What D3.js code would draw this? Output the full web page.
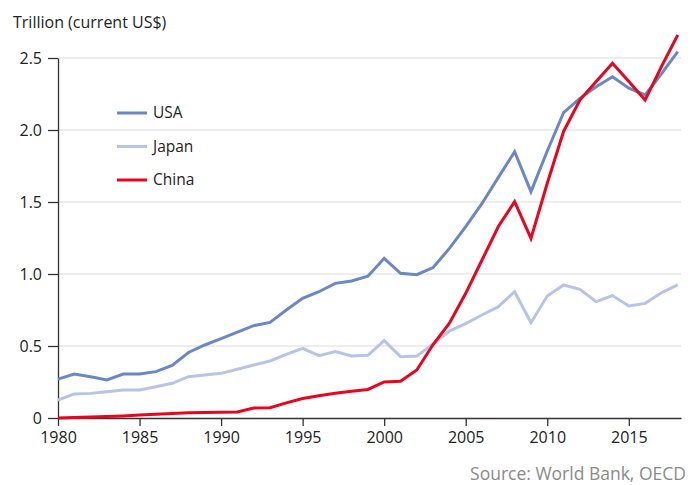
<!DOCTYPE html>
<html>
<head>
<meta charset="utf-8">
<script src="https://cdn.jsdelivr.net/npm/d3@7"></script>
<style>
  html, body { margin: 0; padding: 0; background: #fff; }
  svg { display: block; font-family: "Open Sans", "Noto Sans", sans-serif; }
</style>
</head>
<body>
<svg id="chart" width="696" height="485"></svg>
<script>
// Exports of goods and services, trillion current US$
const years = d3.range(1980, 2019);

const usa = [0.27, 0.305, 0.287, 0.264, 0.305, 0.305, 0.322, 0.365, 0.455, 0.507,
             0.551, 0.597, 0.641, 0.664, 0.75, 0.831, 0.877, 0.935, 0.952, 0.985,
             1.109, 1.005, 0.995, 1.045, 1.178, 1.329, 1.49, 1.671, 1.849, 1.572,
             1.854, 2.12, 2.22, 2.30, 2.37, 2.29, 2.243, 2.39, 2.544];

const japan = [0.125, 0.167, 0.171, 0.183, 0.194, 0.194, 0.217, 0.241, 0.287, 0.299,
               0.31, 0.338, 0.368, 0.396, 0.442, 0.484, 0.433, 0.461, 0.431, 0.435,
               0.537, 0.426, 0.43, 0.515, 0.604, 0.655, 0.715, 0.773, 0.877, 0.662,
               0.847, 0.924, 0.894, 0.808, 0.85, 0.778, 0.796, 0.87, 0.924];

const china = [0.0, 0.004, 0.007, 0.01, 0.014, 0.02, 0.026, 0.032, 0.037, 0.038,
               0.04, 0.042, 0.07, 0.072, 0.105, 0.135, 0.155, 0.172, 0.185, 0.198,
               0.25, 0.255, 0.333, 0.51, 0.658, 0.866, 1.097, 1.33, 1.502, 1.247,
               1.63, 1.99, 2.208, 2.336, 2.463, 2.336, 2.208, 2.44, 2.66];

const yTicks = [0, 0.5, 1.0, 1.5, 2.0, 2.5];
const yTickLabels = ["0", "0.5", "1.0", "1.5", "2.0", "2.5"];
const xTicks = [1980, 1985, 1990, 1995, 2000, 2005, 2010, 2015];

const seriesNames = ["USA", "Japan", "China"];
const seriesValues = [usa, japan, china];
const seriesColors = ["#6b87c6", "#b9c3e6", "#e8051f"];

const svg = d3.select("#chart");
const plotLeft = 58, plotRight = 681, plotTop = 58, plotBottom = 418;

const x = d3.scaleLinear().domain([1980, 2018.2]).range([plotLeft, plotRight]);
const y = d3.scaleLinear().domain([0, 2.5]).range([plotBottom, plotTop]);

// horizontal gridlines
svg.append("g")
  .selectAll("line")
  .data(yTicks.filter(d => d > 0))
  .join("line")
  .attr("x1", plotLeft).attr("x2", plotRight)
  .attr("y1", d => y(d)).attr("y2", d => y(d))
  .attr("stroke", "#dcdcdc")
  .attr("stroke-width", 1.2);

// y axis
const yAxis = svg.append("g")
  .attr("transform", `translate(${plotLeft},0)`)
  .call(d3.axisLeft(y).tickValues(yTicks)
    .tickFormat((d, i) => yTickLabels[i]).tickSize(10).tickSizeOuter(0).tickPadding(6));
yAxis.select(".domain").attr("stroke", "#333").attr("stroke-width", 1.3);
yAxis.selectAll(".tick line").attr("stroke", "#333").attr("stroke-width", 1.3);
yAxis.selectAll("text").attr("font-size", 16).attr("fill", "#222")
  .attr("font-family", "'Open Sans', sans-serif");

// x axis
const xAxis = svg.append("g")
  .attr("transform", `translate(0,${plotBottom})`)
  .call(d3.axisBottom(x).tickValues(xTicks).tickFormat(d3.format("d"))
    .tickSize(8).tickSizeOuter(0).tickPadding(6));
xAxis.select(".domain").attr("stroke", "#333").attr("stroke-width", 1.3);
xAxis.selectAll(".tick line").attr("stroke", "#333").attr("stroke-width", 1.3);
xAxis.selectAll("text").attr("font-size", 16).attr("fill", "#222")
  .attr("font-family", "'Open Sans', sans-serif");

// series lines
const line = d3.line().x((d, i) => x(years[i])).y(d => y(d));
const order = [1, 0, 2];
svg.append("g")
  .selectAll("path")
  .data(order)
  .join("path")
  .attr("d", k => line(seriesValues[k]))
  .attr("fill", "none")
  .attr("stroke", k => seriesColors[k])
  .attr("stroke-width", 3)
  .attr("stroke-linejoin", "miter")
  .attr("stroke-linecap", "butt");

// legend
const legend = svg.append("g");
const legendY = d3.scalePoint().domain(seriesNames).range([113, 180]);
seriesNames.forEach((name, i) => {
  const ly = legendY(name);
  legend.append("line")
    .attr("x1", 117).attr("x2", 147).attr("y1", ly).attr("y2", ly)
    .attr("stroke", seriesColors[i]).attr("stroke-width", 3);
  legend.append("text")
    .attr("x", 153).attr("y", ly).attr("dy", "0.35em")
    .attr("font-size", 15.5).attr("fill", "#222")
    .text(name);
});

// axis title
svg.append("text")
  .attr("x", 13).attr("y", 28)
  .attr("font-size", 16).attr("fill", "#222")
  .text("Trillion (current US$)");

// source note
svg.append("text")
  .attr("x", 686).attr("y", 480)
  .attr("text-anchor", "end")
  .attr("font-size", 17.5).attr("fill", "#8a8a8a")
  .text("Source: World Bank, OECD");
</script>
</body>
</html>
